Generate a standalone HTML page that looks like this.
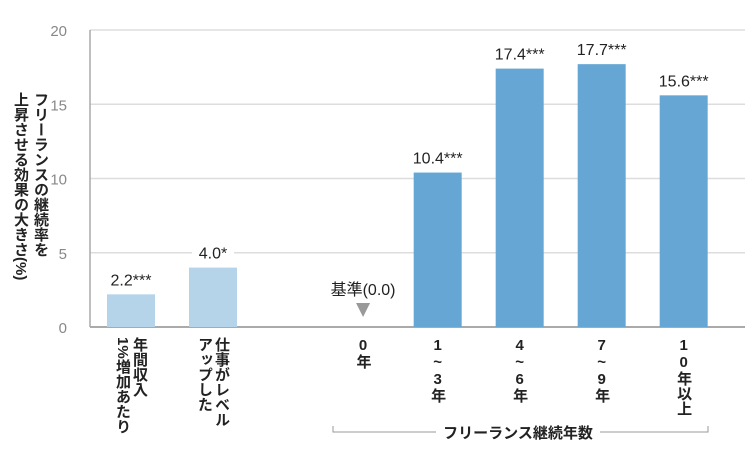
<!DOCTYPE html>
<html><head><meta charset="utf-8"><style>
body{margin:0;background:#fff}
#c{position:relative;width:750px;height:476px;overflow:hidden;font-family:"Liberation Sans","Noto Sans CJK JP",sans-serif}
.v{position:absolute;writing-mode:vertical-rl;font-weight:bold;font-size:15px;color:#222;line-height:17px;letter-spacing:0}
</style></head><body>
<div id="c">
<svg id="s" width="750" height="476" style="position:absolute;left:0;top:0"></svg>
<div class="v" style="left:10px;top:92px;line-height:20px;font-size:15px">フリーランスの継続率を<br>上昇させる効果の大きさ(%)</div>
</div>
<script>
const categories=["年間収入1%増加あたり","仕事がレベルアップした","0年","1~3年","4~6年","7~9年","10年以上"];
const values=[2.2,4.0,0,10.4,17.4,17.7,15.6];
const valueLabels=["2.2***","4.0*","基準(0.0)","10.4***","17.4***","17.7***","15.6***"];
const yTicks=[0,5,10,15,20];
const slots=[0,1,2.83,3.74,4.74,5.74,6.74];
const X0=90,X1=745,Y0=327,Y1=30,BW=48;
const y=v=>Y0-(v-0)/(20-0)*(Y0-Y1);
const x=i=>131+slots[i]*82;
const s=document.getElementById('s'),c=document.getElementById('c');
const NS="http://www.w3.org/2000/svg";
function el(t,a,p){const e=document.createElementNS(NS,t);for(const k in a)e.setAttribute(k,a[k]);(p||s).appendChild(e);return e;}
yTicks.forEach(t=>{
 const g=el('line',{x1:X0,x2:X1,y1:y(t),y2:y(t),stroke:t===0?'#aaa':'#ddd','stroke-width':t===0?2:1.5});
 
 
 const tx=el('text',{x:67,y:y(t)+6,'text-anchor':'end','font-size':15,fill:'#888','font-family':'Liberation Sans, sans-serif'});
 tx.textContent=t;
 
 
});
const ax=el('line',{x1:X0,x2:X0,y1:Y1,y2:Y0,stroke:'#aaa','stroke-width':1.5});


values.forEach((v,i)=>{
 const cx=x(i);
 if(i===2){
  const m=el('polygon',{points:`${cx-7},${y(0)-24} ${cx+7},${y(0)-24} ${cx},${y(0)-10}`,fill:'#999'});
  
  
 }else{
  const r=el('rect',{x:cx-BW/2,y:y(v),width:BW,height:y(0)-y(v),fill:i<2?'#b5d4ea':'#66a6d4'});
  
  
 }
 const ly=i===2?y(0)-32:y(v)-9;
 const tw=valueLabels[i].length*8.5+8;
 const bg=el('rect',{x:cx-tw/2,y:ly-16,width:tw,height:20,fill:'#fff'});
 
 
 const t=el('text',{x:cx,y:ly,'text-anchor':'middle','font-size':16,fill:'#222','font-family':'Liberation Sans, Noto Sans CJK JP, sans-serif'});
 t.textContent=valueLabels[i];
 
 
});
const labelsHtml=[["年間収入","1%増加あたり"],["仕事がレベル","アップした"],["0年"],["1~3年"],["4~6年"],["7~9年"],["10年以上"]];
labelsHtml.forEach((l,i)=>{
 const d=document.createElement('div');d.className='v';
 
 
 d.innerHTML=l.join('<br>');
 c.appendChild(d);
 const w=d.offsetWidth;d.style.left=(x(i)-w/2)+'px';d.style.top='337px';
 if(i>=2){d.style.textOrientation='upright';d.style.fontSize='15px';d.style.lineHeight='17px';}
});
const br=el('path',{d:'M333,426 V432 H708 V426',fill:'none',stroke:'#999','stroke-width':1});


const gb=el('rect',{x:436,y:422,width:164,height:20,fill:'#fff'});


const gl=el('text',{x:518,y:438,'text-anchor':'middle','font-size':15,'font-weight':'bold',fill:'#222','font-family':'Liberation Sans, Noto Sans CJK JP, sans-serif'});
gl.textContent='フリーランス継続年数';


</script>
</body></html>
